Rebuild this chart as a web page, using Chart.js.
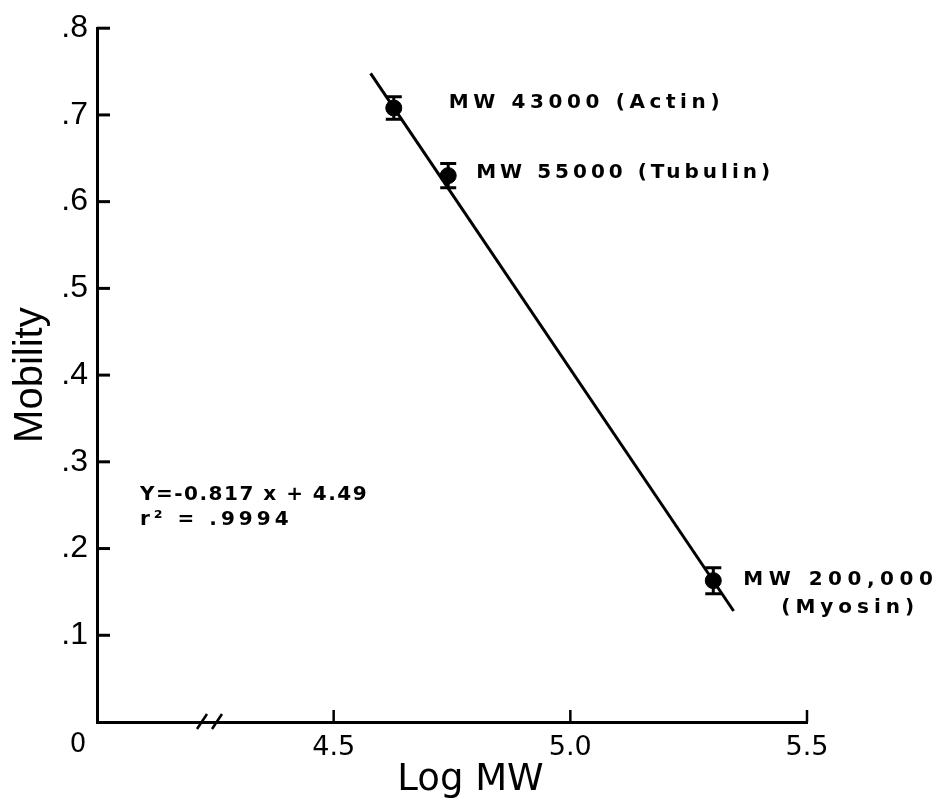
<!DOCTYPE html>
<html>
<head>
<meta charset="utf-8">
<script src="https://cdn.jsdelivr.net/npm/chart.js@4.4.0/dist/chart.umd.min.js"></script>
<style>
  html, body { margin: 0; padding: 0; background: #fff; }
  #wrap { width: 945px; height: 803px; }
</style>
</head>
<body>
<div id="wrap"><canvas id="mobilityChart"></canvas></div>
<script>
// marker proteins: log MW vs mobility
const proteins = ['(Actin)', '(Tubulin)', '(Myosin)'];
const mwLabels = ['MW 43000', 'MW 55000', 'MW 200,000'];
const logMW = [4.627, 4.742, 5.302];
const mobility = [0.708, 0.630, 0.163];
const mobilityErr = [0.013, 0.014, 0.015];

// fitted line, end points
const fitX = [4.578, 5.345];
const fitY = [0.748, 0.128];

// axis ticks
const xTicks = [4.0, 4.5, 5.0, 5.5];
const xTickLabels = ['0', '4.5', '5.0', '5.5'];
const yTicks = [0, 0.1, 0.2, 0.3, 0.4, 0.5, 0.6, 0.7, 0.8];
const yTickLabels = ['', '.1', '.2', '.3', '.4', '.5', '.6', '.7', '.8'];

const equation = 'Y=-0.817 x + 4.49';
const rSquared = 'r\u00b2 = .9994';

const ink = '#000';

// inward ticks, axis break, error bars and the lettering
const gelPlugin = {
  id: 'gelPlugin',
  afterDatasetsDraw(chart) {
    const ctx = chart.ctx;
    const xs = chart.scales.x, ys = chart.scales.y;
    const area = chart.chartArea;
    ctx.save();
    ctx.strokeStyle = ink;
    ctx.fillStyle = ink;
    ctx.lineCap = 'butt';

    // y ticks point right
    ctx.lineWidth = 3;
    yTicks.forEach(v => {
      if (v === 0) return;
      const py = ys.getPixelForValue(v);
      ctx.beginPath();
      ctx.moveTo(area.left, py);
      ctx.lineTo(area.left + 13, py);
      ctx.stroke();
    });
    // x ticks point up
    ctx.lineWidth = 2.5;
    xTicks.forEach((v, i) => {
      if (i === 0) return;
      const px = xs.getPixelForValue(v);
      ctx.beginPath();
      ctx.moveTo(px, area.bottom);
      ctx.lineTo(px, area.bottom - 12);
      ctx.stroke();
    });

    // axis break //
    const bx = area.left + 100;
    ctx.lineWidth = 2.5;
    [0, 15].forEach(dx => {
      ctx.beginPath();
      ctx.moveTo(bx + dx, area.bottom + 7);
      ctx.lineTo(bx + dx + 10, area.bottom - 8);
      ctx.stroke();
    });

    // error bars
    ctx.lineWidth = 3;
    logMW.forEach((x, i) => {
      const px = xs.getPixelForValue(x);
      const top = ys.getPixelForValue(mobility[i] + mobilityErr[i]);
      const bot = ys.getPixelForValue(mobility[i] - mobilityErr[i]);
      ctx.beginPath();
      ctx.moveTo(px, top); ctx.lineTo(px, bot);
      ctx.moveTo(px - 8, top); ctx.lineTo(px + 8, top);
      ctx.moveTo(px - 8, bot); ctx.lineTo(px + 8, bot);
      ctx.stroke();
    });

    // "0" at the origin
    ctx.font = "26px 'DejaVu Sans'";
    ctx.textAlign = 'center';
    ctx.textBaseline = 'top';
    ctx.fillText(xTickLabels[0], area.left - 19, area.bottom + 10);

    // point labels
    ctx.font = "bold 20px 'DejaVu Sans'";
    ctx.textAlign = 'left';
    ctx.textBaseline = 'middle';
    const pts = logMW.map((x, i) => [xs.getPixelForValue(x), ys.getPixelForValue(mobility[i])]);
    ctx.letterSpacing = '4.6px';
    ctx.fillText(mwLabels[0] + ' ' + proteins[0], pts[0][0] + 55, pts[0][1] - 5);
    ctx.letterSpacing = '4px';
    ctx.fillText(mwLabels[1] + ' ' + proteins[1], pts[1][0] + 28, pts[1][1] - 3);
    ctx.letterSpacing = '5.5px';
    ctx.fillText(mwLabels[2], pts[2][0] + 30, pts[2][1] - 1);
    ctx.letterSpacing = '5px';
    ctx.fillText(proteins[2], pts[2][0] + 68, pts[2][1] + 27);

    // regression equation
    ctx.letterSpacing = '1.5px';
    ctx.fillText(equation, area.left + 43, 495);
    ctx.letterSpacing = '4px';
    ctx.fillText(rSquared, area.left + 43, 520);
    ctx.restore();
  }
};

const config = {
  data: {
    datasets: [
      {
        type: 'line',
        data: fitX.map((x, i) => ({x: x, y: fitY[i]})),
        borderColor: ink,
        borderWidth: 3,
        pointRadius: 0,
        fill: false
      },
      {
        type: 'scatter',
        data: logMW.map((x, i) => ({x: x, y: mobility[i]})),
        backgroundColor: ink,
        borderColor: ink,
        pointRadius: 8,
        pointHoverRadius: 8
      }
    ]
  },
  options: {
    responsive: true,
    maintainAspectRatio: false,
    animation: false,
    events: [],
    layout: { padding: { left: 0, top: 26, right: 138, bottom: 0 } },
    plugins: { legend: { display: false }, tooltip: { enabled: false } },
    scales: {
      x: {
        type: 'linear',
        min: 4.0,
        max: 5.5,
        afterBuildTicks: s => { s.ticks = xTicks.map(v => ({value: v})); },
        afterFit: s => { s.height = 81; },
        grid: { display: false, drawTicks: false },
        border: { display: true, color: ink, width: 3 },
        ticks: {
          color: ink,
          padding: 10,
          maxRotation: 0,
          font: { family: 'DejaVu Sans', size: 27 },
          callback: (v, i) => (i === 0 ? '' : xTickLabels[i])
        },
        title: {
          display: true,
          text: '\u2002\u2002Log MW',
          color: ink,
          font: { family: 'DejaVu Sans', size: 37 },
          padding: { top: 0, bottom: 0 }
        }
      },
      y: {
        type: 'linear',
        min: 0,
        max: 0.8,
        afterBuildTicks: s => { s.ticks = yTicks.map(v => ({value: v})); },
        afterFit: s => { s.width = 97; },
        grid: { display: false, drawTicks: false },
        border: { display: true, color: ink, width: 3 },
        ticks: {
          color: ink,
          padding: 9,
          font: { family: 'Liberation Sans', size: 32 },
          callback: (v, i) => yTickLabels[i]
        },
        title: {
          display: true,
          text: 'Mobility',
          color: ink,
          font: { family: 'Liberation Sans', size: 40 },
          padding: { top: 7, bottom: 0 }
        }
      }
    }
  },
  plugins: [gelPlugin]
};

const myChart = new Chart(document.getElementById('mobilityChart'), config);
</script>
</body>
</html>
